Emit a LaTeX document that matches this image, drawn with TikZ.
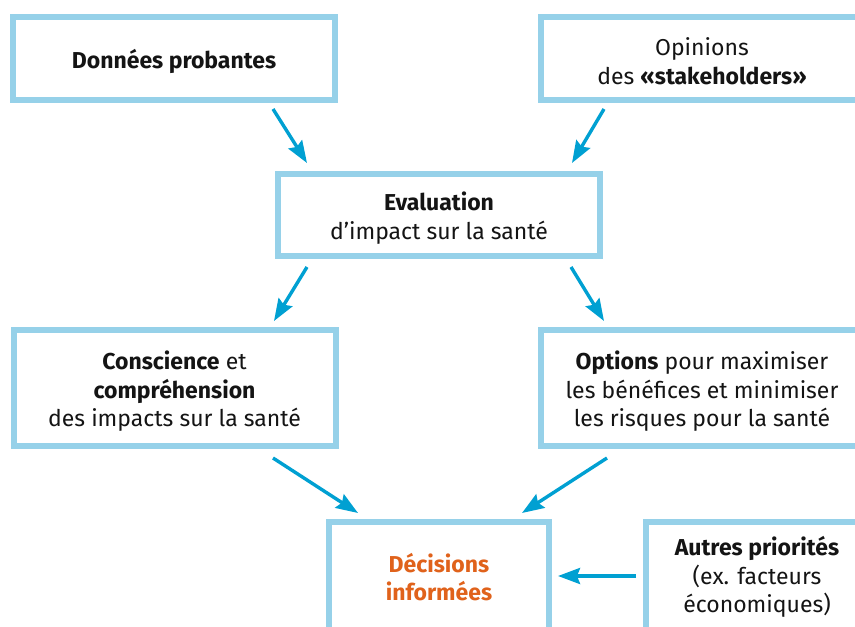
\documentclass[tikz,border=0pt]{standalone}
\usepackage{fontspec}
\setmainfont{Fira Sans}
\usetikzlibrary{arrows.meta}
\definecolor{boxblue}{RGB}{150,209,233}
\definecolor{arrblue}{RGB}{0,160,210}
\definecolor{decorange}{RGB}{224,98,27}
\definecolor{txtcol}{RGB}{20,20,20}
\begin{document}
\begin{tikzpicture}[x=1pt,y=-1pt,
  box/.style={draw=boxblue, line width=6pt, fill=white, inner sep=0pt},
  wide/.style={minimum width=322pt},
  lbl/.style={align=center, inner sep=0pt, text=txtcol, font=\fontsize{23}{28.5}\selectfont},
  arr/.style={draw=arrblue, line width=3.4pt, -{Stealth[length=22pt,width=16pt,inset=3pt]}}]
\useasboundingbox (0,0) rectangle (855,627);
\clip (0,0) rectangle (855,627);
% boxes
\node[box, wide, minimum height=83pt] (donnees) at (174,58.5) {};
\node[box, wide, minimum height=83pt] (opinions) at (702,58.5) {};
\node[box, wide, minimum height=82pt] (eval) at (439,215) {};
\node[box, wide, minimum height=116pt] (conscience) at (174.5,388) {};
\node[box, wide, minimum height=116pt] (options) at (702,388) {};
\node[box, minimum width=220pt, minimum height=108pt] (decisions) at (439,576) {};
\node[box, minimum width=222pt, minimum height=108pt] (autres) at (757,576) {};
% texts
\node[lbl] (donnees-t) at ([yshift=-2.5pt]donnees.center) {\textbf{Données probantes}};
\node[lbl] (opinions-t) at ([yshift=-2.5pt]opinions.center) {Opinions\\des \textbf{«stakeholders»}};
\node[lbl] (eval-t) at ([yshift=-3pt]eval.center) {\textbf{Evaluation}\\d’impact sur la santé};
\node[lbl] (conscience-t) at ([yshift=-3.5pt]conscience.center) {\textbf{Conscience} et\\\textbf{compréhension}\\des impacts sur la santé};
\node[lbl] (options-t) at ([yshift=-3.5pt]options.center) {\textbf{Options} pour maximiser\\les bénéfices et minimiser\\les risques pour la santé};
\node[lbl, text=decorange] (decisions-t) at ([yshift=-1pt]decisions.center) {\textbf{Décisions}\\\textbf{informées}};
\node[lbl] (autres-t) at ([yshift=-1pt]autres.center) {\textbf{Autres priorités}\\(ex. facteurs\\économiques)};
% arrow end points
\coordinate (a1s) at (273,109);  \coordinate (a1e) at (307,163);
\coordinate (a2s) at (604,109);  \coordinate (a2e) at (572,163);
\coordinate (a3s) at (307,267);  \coordinate (a3e) at (274,321);
\coordinate (a4s) at (571,267);  \coordinate (a4e) at (604,321);
\coordinate (a5s) at (273,458);  \coordinate (a5e) at (358,513);
\coordinate (a6s) at (607,458);  \coordinate (a6e) at (522,513);
\coordinate (a7s) at (636,576);  \coordinate (a7e) at (558,576);
\draw[arr] (a1s) -- (a1e);
\draw[arr] (a2s) -- (a2e);
\draw[arr] (a3s) -- (a3e);
\draw[arr] (a4s) -- (a4e);
\draw[arr] (a5s) -- (a5e);
\draw[arr] (a6s) -- (a6e);
\draw[arr] (a7s) -- (a7e);
\end{tikzpicture}
\end{document}
